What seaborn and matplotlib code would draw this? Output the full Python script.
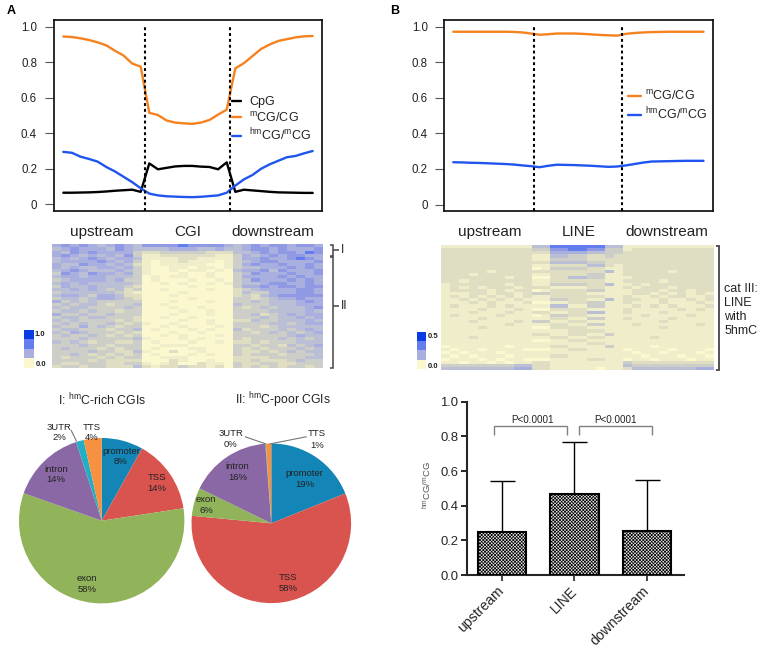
import numpy as np
import matplotlib
matplotlib.use('Agg')
import matplotlib.pyplot as plt
import seaborn as sns

# ---- data ----
cgi_pos = list(range(30))
cgi_cpg = [.065, .065, .066, .067, .069, .072, .076, .079, .082, .07, .23, .197, .205, .213, .216,
           .216, .212, .21, .197, .236, .07, .082, .078, .074, .07, .067, .066, .065, .064, .064]
cgi_mcg = [.945, .942, .935, .925, .912, .895, .865, .838, .793, .775, .515, .503, .472, .46, .456,
           .453, .46, .475, .505, .533, .765, .795, .835, .875, .9, .92, .93, .94, .946, .948]
cgi_hmcg = [.295, .29, .268, .255, .24, .21, .185, .155, .125, .09, .06, .05, .045, .043, .041,
            .04, .042, .046, .05, .065, .105, .14, .165, .2, .225, .245, .265, .272, .287, .3]

line_pos = list(range(30))
line_mcg = [.972, .972, .972, .972, .972, .972, .972, .971, .968, .962, .955, .958, .962, .962, .962,
            .96, .957, .954, .952, .95, .96, .965, .968, .97, .971, .972, .972, .972, .972, .972]
line_hmcg = [.238, .237, .235, .234, .232, .23, .228, .225, .22, .216, .21, .218, .224, .223, .222,
             .22, .218, .215, .212, .214, .22, .228, .236, .242, .243, .244, .245, .246, .246, .246]

yticks = [0, .2, .4, .6, .8, 1.0]
yticklabels = ['0', '0.2', '0.4', '0.6', '0.8', '1.0']

# heatmap rows, one digit per cell, blocks: upstream / edge / CGI / edge / downstream
cgi_rows = [
    "565654565 4 6666766665 4 565665665",
    "456555465 4 4445554454 4 566565556",
    "546565555 3 2233333222 4 456566576",
    "565454546 3 1122222211 3 545656655",
    "454565455 4 1111221111 3 556556765",
    "455556545 3 1011211101 3 456655556",
    "544655454 2 1011111001 3 565565565",
    "545445545 3 1001101101 3 445556565",
    "456544454 3 1001011010 4 556465556",
    "365465545 3 1000100100 3 465556556",
    "455455444 3 0101100100 3 555565655",
    "345555453 3 0100010010 3 465556565",
    "454544444 3 0010100101 3 445665565",
    "354454443 2 0000010000 3 556566566",
    "445454342 3 0010000100 2 345555665",
    "344444432 1 0000100000 2 433555665",
    "455435542 2 0001000000 2 324566666",
    "344345543 2 0000010000 3 323455655",
    "534343333 3 0001000100 3 343444565",
    "343443233 4 0010000000 4 333444555",
    "434433334 3 0001001000 3 234344456",
    "344343323 3 0000100100 3 333444454",
    "533433433 3 0001000100 3 342345455",
    "344344333 2 0010010000 3 334344545",
    "434333323 2 0000100100 2 243344454",
    "343433432 3 1001000100 3 333443455",
    "433534323 3 0010100010 3 332344444",
    "344333233 4 0100010100 4 233343454",
    "435433323 2 0001001000 3 323434345",
    "343343232 3 0010100010 3 333334544",
    "333433333 4 1000101000 3 233343434",
    "434323322 3 0100010010 2 232333444",
    "333433233 3 0011100000 3 323324345",
    "343332323 3 0100011000 3 232333434",
    "333343322 4 1002001000 3 223234344",
    "334323232 3 0100010100 3 233323334",
    "323332323 3 0011100000 2 222333344",
    "333323222 2 0002100100 2 232223433",
    "322333223 3 1012002110 3 223322333",
    "233233222 4 2122322120 3 232323323",
]
line_rows = [
    "1111111111 4477777744 1111111111",
    "2222222222 3366776633 1222222222",
    "2222222222 2255554433 2222222222",
    "2222222222 1144332232 2222222222",
    "2222222222 1133332222 2222222222",
    "2222222222 2244443322 2222222222",
    "2222222222 1122224421 2222222222",
    "2222222222 0133332211 2222222222",
    "2222212222 2222222241 2222212222",
    "2221222222 1122223311 2222222222",
    "2222222122 0022443311 1222222222",
    "2212222222 1122222211 2222122222",
    "1222222122 1133332241 1212222222",
    "1212122212 2211112211 2122212222",
    "1222212122 0122223311 1222122122",
    "1112212212 3322221111 1221212121",
    "1212121212 1122222211 2112122112",
    "1121212121 1133221141 2211211212",
    "1112121112 0011223311 2111211121",
    "1211121211 1144113311 1212121112",
    "1111211121 0022221111 2111112121",
    "1112111211 2211224411 2111211111",
    "1211112111 0133221111 1121111211",
    "1111211111 1122113311 2111121111",
    "1112111121 3311221111 1111211111",
    "1111111211 1122113311 1211111121",
    "1111211111 0022221111 1111211111",
    "1111111111 1111222211 1111111111",
    "1111111111 2211221131 1111111111",
    "1112111111 1122112211 1112111111",
    "1111111111 0011221111 1111111111",
    "1111111111 1111112211 1111111111",
    "0111111011 1122111131 1110111111",
    "1011011110 0011221111 0111101110",
    "0101110111 1111111111 1011011101",
    "1010111011 1122111111 1101110110",
    "0111010110 0011112211 0110111011",
    "1101101011 2211111111 3222222222",
    "3333333344 2211111111 4333333333",
    "4444444455 2211111011 2444444455",
]
legend_levels = [[9], [7], [5], [0]]
heat_colors = ['#FBF8CF', '#F0EECA', '#DFDEC2', '#CECEC8', '#BBBFD6',
               '#A9AFDE', '#8F99E4', '#647DEE', '#3A5EEE', '#0A3CE6']

pie_labels = ['promoter', 'TSS', 'exon', 'intron', '3UTR', 'TTS']
pie_colors = ['#1385B6', '#D9534F', '#91B35A', '#8A68A5', '#22AEC4', '#F79142']
rich_values = [8.1, 14.5, 57.8, 14.6, 1.5, 3.5]
poor_values = [18.9, 57.6, 5.7, 16.6, 0.1, 1.1]

bar_names = ['upstream', 'LINE', 'downstream']
bar_means = [.25, .47, .255]
bar_tops = [.54, .77, .548]

ORANGE = '#F5821F'
BLUE = '#1F55EE'
W, H = 762, 649

sns.set_theme(style='ticks')
plt.rcParams['font.family'] = ['Liberation Sans', 'DejaVu Sans']
plt.rcParams['mathtext.default'] = 'regular'
plt.rcParams['hatch.linewidth'] = 0.5
plt.rcParams['text.color'] = '#222222'

fig = plt.figure(figsize=(W / 100, H / 100), dpi=100, facecolor='white')


def axes_px(left, top, right, bottom):
    return fig.add_axes([left / W, 1 - bottom / H, (right - left) / W, (bottom - top) / H])


def profile_axes(box, xlim, vlines, series, leg_anchor, handle_len, text_pad):
    ax = axes_px(*box)
    for pos, vals, col, lab in series:
        sns.lineplot(x=pos, y=vals, color=col, lw=1.7, label=lab, ax=ax)
    for v in vlines:
        ax.axvline(v, ymin=0, ymax=.975, color='black', lw=1.5, linestyle=(0, (1.4, 1.4)), zorder=5)
    ax.set_xlim(*xlim)
    ax.set_ylim(-.038, 1.038)
    ax.set_xticks([])
    ax.set_yticks(yticks, yticklabels, fontsize=8.3, color='#222222')
    ax.tick_params(axis='y', length=6.3, width=.8, color='#555555', pad=5.5)
    for s in ax.spines.values():
        s.set_linewidth(1.25)
        s.set_color('#111111')
        s.set_visible(True)
    ax.legend(loc='upper left', bbox_to_anchor=leg_anchor, bbox_transform=fig.transFigure,
              frameon=False, fontsize=9, borderpad=0, borderaxespad=0, labelspacing=.2,
              handlelength=handle_len, handletextpad=text_pad)
    return ax


def heat_axes(box, rows):
    ax = axes_px(*box)
    mat = np.array([[int(c) for c in r.replace(' ', '')] for r in rows])
    sns.heatmap(mat, ax=ax, cmap=cmap, vmin=0, vmax=9, cbar=False, xticklabels=False, yticklabels=False)
    return ax


def scale_axes(box):
    ax = axes_px(*box)
    sns.heatmap(np.array(legend_levels), ax=ax, cmap=cmap, vmin=0, vmax=9, cbar=False,
                xticklabels=False, yticklabels=False)


def pie_axes(cx, cy, r, values):
    ax = axes_px(cx - r, cy - r, cx + r, cy + r)
    ax.pie(values, colors=pie_colors, startangle=90, counterclock=False, radius=1,
           wedgeprops={'edgecolor': 'none', 'linewidth': 0})
    ax.set_xlim(-1, 1)
    ax.set_ylim(-1, 1)


cmap = sns.blend_palette(heat_colors, n_colors=10, as_cmap=True)

# A, B profiles
profile_axes((53.5, 20, 322, 211), (-1.14, 30.08), [9.5, 19.4],
             [(cgi_pos, cgi_cpg, 'black', 'CpG'),
              (cgi_pos, cgi_mcg, ORANGE, '$^{m}$CG/CG'),
              (cgi_pos, cgi_hmcg, BLUE, '$^{hm}$CG/$^{m}$CG')],
             (232 / W, 1 - 96 / H), .7, .65)
profile_axes((444.3, 20, 713, 211.3), (-1.04, 30.1), [9.3, 19.6],
             [(line_pos, line_mcg, ORANGE, '$^{m}$CG/CG'),
              (line_pos, line_hmcg, BLUE, '$^{hm}$CG/$^{m}$CG')],
             (628.3 / W, 1 - 89 / H), 1.0, .3)

# heatmaps with their small colour scales
heat_axes((51.7, 244.3, 323.3, 368.3), cgi_rows)
heat_axes((441.3, 245, 713.7, 370), line_rows)
scale_axes((24, 330, 34, 367.7))
scale_axes((416.7, 331.7, 426, 369))

# pies
pie_axes(101.7, 520.7, 82.7, rich_values)
pie_axes(271.3, 523.3, 79.8, poor_values)

# bar chart
ax_bar = axes_px(466.7, 401.7, 683.7, 575)
sns.barplot(x=bar_names, y=bar_means, ax=ax_bar, color='#E8E8E8', saturation=1, width=.67,
            edgecolor='black', linewidth=1.5, hatch='xxxxxxxxxx', errorbar=None, zorder=3)
upper = np.array(bar_tops) - np.array(bar_means)
ax_bar.errorbar(range(3), bar_means, yerr=[np.zeros(3), upper], fmt='none', ecolor='black',
                elinewidth=1.0, capsize=9, capthick=1.0, zorder=2)
ax_bar.set_xlim(-.49, 2.51)
ax_bar.set_ylim(0, 1)
ax_bar.set_yticks([0, .2, .4, .6, .8, 1.0], ['0.0', '0.2', '0.4', '0.6', '0.8', '1.0'], fontsize=9.4)
ax_bar.tick_params(axis='y', length=4, width=1.4, pad=2)
ax_bar.tick_params(axis='x', length=4, width=1.2, pad=6)
plt.setp(ax_bar.get_xticklabels(), rotation=45, ha='right', va='center',
         rotation_mode='anchor', fontsize=10.1)
sns.despine(ax=ax_bar)
ax_bar.spines['left'].set_linewidth(1.5)
ax_bar.spines['bottom'].set_linewidth(1.5)
ax_bar.set_xlabel('')
ax_bar.set_ylabel('')

# everything placed by hand goes on one overlay in pixel units
ov = fig.add_axes([0, 0, 1, 1], facecolor='none')
ov.set_xlim(0, W)
ov.set_ylim(H, 0)
ov.axis('off')


def txt(x, y, s, size=6.8, ha='center', va='center', **kw):
    ov.text(x, y, s, fontsize=size, ha=ha, va=va, **kw)


def seg(xs, ys, color='#444444', lw=1.1):
    ov.plot(xs, ys, color=color, lw=lw, solid_capstyle='butt', solid_joinstyle='miter')


txt(11, 11, 'A', 9, weight='bold', color='black')
txt(395, 11, 'B', 9, weight='bold', color='black')

for x, s in [(102, 'upstream'), (187.7, 'CGI'), (273.3, 'downstream'),
             (489.3, 'upstream'), (578.3, 'LINE'), (667, 'downstream')]:
    txt(x, 236, s, 11, va='baseline')

# heatmap side brackets
seg([330, 333, 333, 330], [245, 245, 255.5, 255.5])
seg([333, 339], [249.7, 249.7])
txt(342.5, 249.7, 'I', 8.5)
seg([330, 333, 333, 330], [257, 257, 368.3, 368.3])
seg([333, 339], [305.7, 305.7])
txt(344.5, 305.7, 'II', 8.5)
seg([716, 719.3, 719.3, 716], [246, 246, 369.7, 369.7], lw=1.3)
for y, s in [(289, 'cat III:'), (303, 'LINE'), (317, 'with'), (331, '5hmC')]:
    txt(724.3, y, s, 9, ha='left')

txt(40, 334.5, '1.0', 5.5, weight='bold')
txt(40.7, 364.5, '0.0', 5.5, weight='bold')
txt(432.7, 336.5, '0.5', 5.5, weight='bold')
txt(432.7, 366, '0.0', 5.5, weight='bold')

# pie titles and labels
txt(101.7, 400, 'I: $^{hm}$C-rich CGIs', 8.8)
txt(282.7, 400, 'II: $^{hm}$C-poor CGIs', 8.8)
rich_text = [(121, 452, 462, '8%'), (156.7, 477.3, 488.3, '14%'), (86.7, 578.3, 589, '58%'),
             (56, 469.3, 480, '14%'), (59, 427, 437.7, '2%'), (92, 427, 438, '4%')]
poor_text = [(304.7, 473.7, 484.3, '19%'), (288, 577.3, 588.7, '58%'), (206, 499.3, 510.3, '6%'),
             (237.3, 466.7, 477.7, '16%'), (231, 433.3, 444.7, '0%'), (316.7, 433.3, 445, '1%')]
for name, (x, y1, y2, pct) in zip(pie_labels, rich_text):
    txt(x, y1, name, zorder=6)
    txt(x, y2, pct, zorder=6)
for name, (x, y1, y2, pct) in zip(pie_labels, poor_text):
    txt(x, y1, name)
    txt(x, y2, pct)
seg([71, 76.7], [430, 441.7], color='#777777', lw=.8)
seg([245, 266], [436.7, 444], color='#777777', lw=.8)
seg([306.7, 269.5], [436.7, 444], color='#777777', lw=.8)

# bar chart extras
seg([493.7, 493.7, 566.7, 566.7], [435, 425.7, 425.7, 435], color='#808080', lw=1)
seg([578.7, 578.7, 652, 652], [435, 425.7, 425.7, 435], color='#808080', lw=1)
txt(532.3, 420, 'P<0.0001', 7.1)
txt(615.7, 420, 'P<0.0001', 7.1)
txt(427, 485, '$^{hm}$CG/$^{m}$CG', 6.8, rotation=90, color='#555555')

fig.savefig('out.png', dpi=100)
